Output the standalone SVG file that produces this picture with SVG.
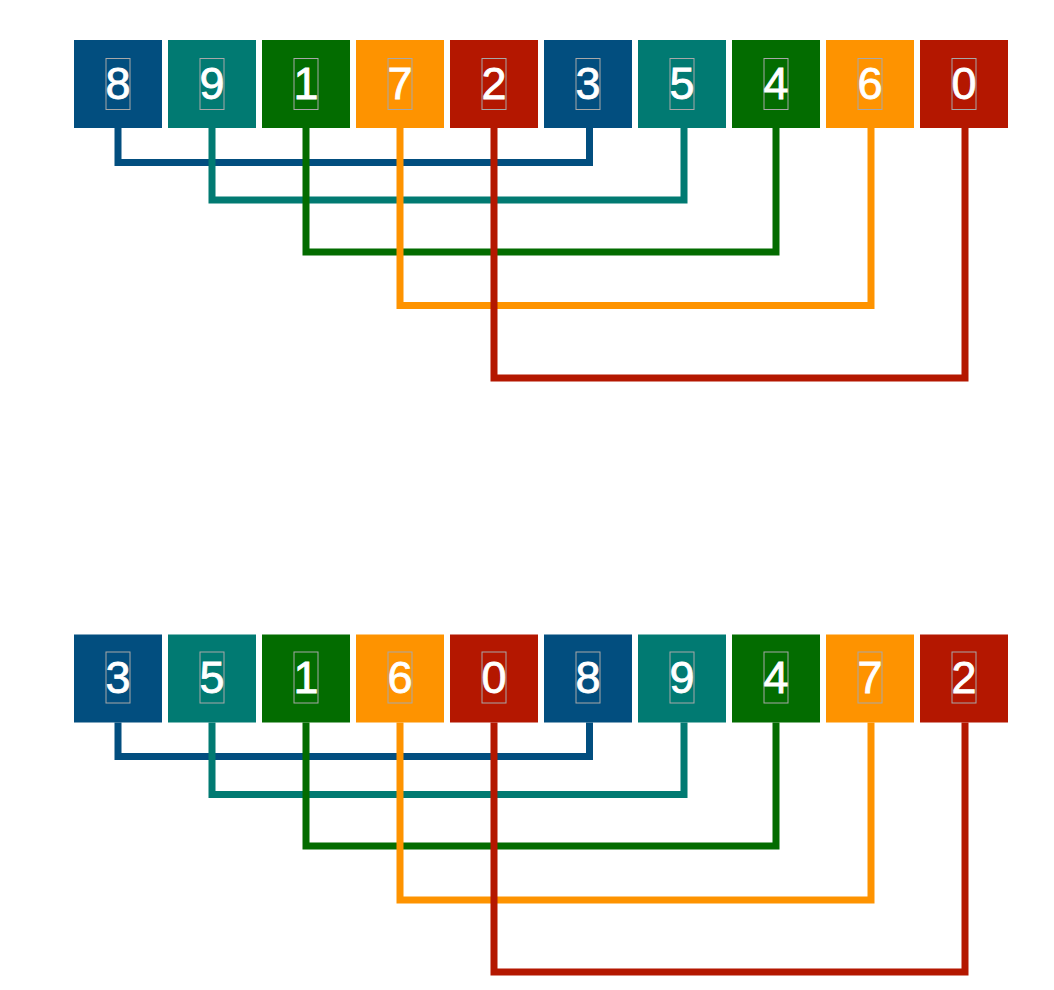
<svg xmlns="http://www.w3.org/2000/svg" width="1054" height="990" viewBox="0 0 1054 990">
<style>
.box{stroke:none}
.b{fill:#024e7f}.t{fill:#017a72}.g{fill:#036c00}.o{fill:#fe9300}.r{fill:#b41700}
.lbl{font-family:"Liberation Sans",Arial,Helvetica,sans-serif;font-size:45px;fill:#ffffff;stroke:#ffffff;stroke-width:0.8;text-anchor:middle}
.tb{fill:none;stroke:#a8a8a8;stroke-width:1}
.c{fill:none;stroke-width:7;stroke-linejoin:miter;stroke-linecap:butt}
.cb{stroke:#024e7f}.ct{stroke:#017a72}.cg{stroke:#036c00}.co{stroke:#fe9300}.cr{stroke:#b41700}
</style>
<rect width="1054" height="990" fill="#ffffff"/>
<g id="top-row">
<g id="t8"><rect class="box b" x="74" y="40" width="88" height="88"/><rect class="tb" x="106" y="58.5" width="24" height="51"/><text class="lbl" x="118" y="99">8</text></g>
<g id="t9"><rect class="box t" x="168" y="40" width="88" height="88"/><rect class="tb" x="200" y="58.5" width="24" height="51"/><text class="lbl" x="212" y="99">9</text></g>
<g id="t1"><rect class="box g" x="262" y="40" width="88" height="88"/><rect class="tb" x="294" y="58.5" width="24" height="51"/><text class="lbl" x="306" y="99">1</text></g>
<g id="t7"><rect class="box o" x="356" y="40" width="88" height="88"/><rect class="tb" x="388" y="58.5" width="24" height="51"/><text class="lbl" x="400" y="99">7</text></g>
<g id="t2"><rect class="box r" x="450" y="40" width="88" height="88"/><rect class="tb" x="482" y="58.5" width="24" height="51"/><text class="lbl" x="494" y="99">2</text></g>
<g id="t3"><rect class="box b" x="544" y="40" width="88" height="88"/><rect class="tb" x="576" y="58.5" width="24" height="51"/><text class="lbl" x="588" y="99">3</text></g>
<g id="t5"><rect class="box t" x="638" y="40" width="88" height="88"/><rect class="tb" x="670" y="58.5" width="24" height="51"/><text class="lbl" x="682" y="99">5</text></g>
<g id="t4"><rect class="box g" x="732" y="40" width="88" height="88"/><rect class="tb" x="764" y="58.5" width="24" height="51"/><text class="lbl" x="776" y="99">4</text></g>
<g id="t6"><rect class="box o" x="826" y="40" width="88" height="88"/><rect class="tb" x="858" y="58.5" width="24" height="51"/><text class="lbl" x="870" y="99">6</text></g>
<g id="t0"><rect class="box r" x="920" y="40" width="88" height="88"/><rect class="tb" x="952" y="58.5" width="24" height="51"/><text class="lbl" x="964" y="99">0</text></g>
</g>
<g id="bottom-row">
<g id="b3"><rect class="box b" x="74" y="634.5" width="88" height="88"/><rect class="tb" x="106" y="652" width="24" height="51"/><text class="lbl" x="118" y="692.5">3</text></g>
<g id="b5"><rect class="box t" x="168" y="634.5" width="88" height="88"/><rect class="tb" x="200" y="652" width="24" height="51"/><text class="lbl" x="212" y="692.5">5</text></g>
<g id="b1"><rect class="box g" x="262" y="634.5" width="88" height="88"/><rect class="tb" x="294" y="652" width="24" height="51"/><text class="lbl" x="306" y="692.5">1</text></g>
<g id="b6"><rect class="box o" x="356" y="634.5" width="88" height="88"/><rect class="tb" x="388" y="652" width="24" height="51"/><text class="lbl" x="400" y="692.5">6</text></g>
<g id="b0"><rect class="box r" x="450" y="634.5" width="88" height="88"/><rect class="tb" x="482" y="652" width="24" height="51"/><text class="lbl" x="494" y="692.5">0</text></g>
<g id="b8"><rect class="box b" x="544" y="634.5" width="88" height="88"/><rect class="tb" x="576" y="652" width="24" height="51"/><text class="lbl" x="588" y="692.5">8</text></g>
<g id="b9"><rect class="box t" x="638" y="634.5" width="88" height="88"/><rect class="tb" x="670" y="652" width="24" height="51"/><text class="lbl" x="682" y="692.5">9</text></g>
<g id="b4"><rect class="box g" x="732" y="634.5" width="88" height="88"/><rect class="tb" x="764" y="652" width="24" height="51"/><text class="lbl" x="776" y="692.5">4</text></g>
<g id="b7"><rect class="box o" x="826" y="634.5" width="88" height="88"/><rect class="tb" x="858" y="652" width="24" height="51"/><text class="lbl" x="870" y="692.5">7</text></g>
<g id="b2"><rect class="box r" x="920" y="634.5" width="88" height="88"/><rect class="tb" x="952" y="652" width="24" height="51"/><text class="lbl" x="964" y="692.5">2</text></g>
</g>
<g id="connectors">
<polyline class="c cb" points="118,128 118,162.5 589.5,162.5 589.5,128"/>
<polyline class="c ct" points="212,128 212,200 684,200 684,128"/>
<polyline class="c cg" points="306,128 306,252 776,252 776,128"/>
<polyline class="c co" points="400,128 400,305.5 871,305.5 871,128"/>
<polyline class="c cr" points="494,128 494,378 965,378 965,128"/>
<polyline class="c cb" points="118,722.5 118,756.5 589.5,756.5 589.5,722.5"/>
<polyline class="c ct" points="212,722.5 212,794.5 684,794.5 684,722.5"/>
<polyline class="c cg" points="306,722.5 306,846 776,846 776,722.5"/>
<polyline class="c co" points="400,722.5 400,900 871,900 871,722.5"/>
<polyline class="c cr" points="494,722.5 494,972 965,972 965,722.5"/>
</g>
</svg>
